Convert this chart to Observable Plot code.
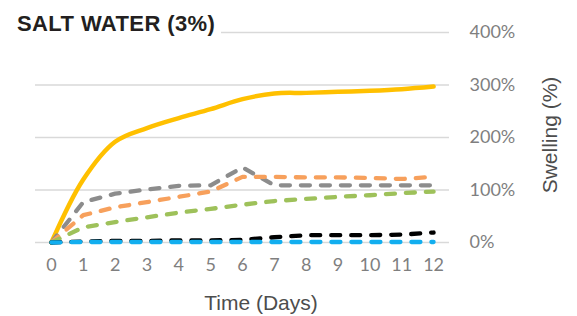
<!DOCTYPE html>
<html>
<head>
<meta charset="utf-8">
<script src="https://cdn.jsdelivr.net/npm/d3@7"></script>
<script src="https://cdn.jsdelivr.net/npm/@observablehq/plot@0.6"></script>
<style>
  html, body { margin: 0; padding: 0; background: #fff; }
  #chart { position: relative; width: 577px; height: 316px; }
</style>
</head>
<body>
<div id="chart"></div>
<script>
const title = "SALT WATER (3%)";
const xLabel = "Time (Days)";
const yLabel = "Swelling (%)";
const days = [0, 1, 2, 3, 4, 5, 6, 7, 8, 9, 10, 11, 12];
const yTicks = [0, 100, 200, 300, 400];

const seriesNames = ["Yellow", "Gray", "Orange", "Green", "Black", "Blue"];
const seriesColors = ["#FFC000", "#8C8C8C", "#F7A05C", "#9EC15A", "#000000", "#12AEEF"];
const yellowValues = [0, 120, 192, 218, 237, 254, 273, 284, 285, 287, 289, 292, 297];
const grayValues   = [0, 77, 93, 101, 108, 109, 143, 109, 109, 109, 109, 109, 109];
const orangeValues = [0, 52, 67, 77, 87, 97, 125, 125, 124, 124, 123, 121, 125];
const greenValues  = [0, 29, 39, 48, 57, 64, 72, 79, 83, 87, 90, 94, 97];
const blackValues  = [0, 2, 3, 3, 4, 4, 5, 10, 14, 14, 14, 15, 19];
const blueValues   = [0, 1, 1, 1, 1, 1, 1, 1, 1, 1, 1, 1, 1];

const allValues = [yellowValues, grayValues, orangeValues, greenValues, blackValues, blueValues];
const rows = (i) => days.map((d, j) => ({day: d, value: allValues[i][j], series: seriesNames[i]}));

const dashedMarks = [1, 2, 3, 4, 5].map(i =>
  Plot.line(rows(i), {
    x: "day", y: "value", stroke: seriesColors[i], strokeWidth: 4.3,
    strokeDasharray: "9,11", strokeLinecap: "round", curve: "linear"
  })
);

const plot = Plot.plot({
  width: 577,
  height: 316,
  marginLeft: 35,
  marginRight: 128,
  marginTop: 32,
  marginBottom: 74,
  style: {fontFamily: "Lato, sans-serif", background: "#fff"},
  x: {domain: [-0.5, 12.5]},
  y: {domain: [0, 400]},
  marks: [
    Plot.gridY(yTicks, {stroke: "#d9d9d9", strokeOpacity: 1, strokeWidth: 1.6}),
    Plot.axisX(days, {tickSize: 0, tickPadding: 16, fontSize: 18, fill: "#7f7f7f", label: null}),
    Plot.axisY(yTicks, {anchor: "right", tickSize: 0, tickPadding: 20, fontSize: 18, fill: "#7f7f7f",
      tickFormat: d => d + "%", label: null, textAnchor: "start"}),
    Plot.line(rows(0), {x: "day", y: "value", stroke: seriesColors[0], strokeWidth: 4.5,
      curve: "catmull-rom", strokeLinecap: "round"})
  ].concat(dashedMarks)
});

const svg = d3.select(plot);
svg.append("rect").attr("x", 0).attr("y", 0).attr("width", 221).attr("height", 40).attr("fill", "#fff");
svg.append("text")
  .attr("x", 17).attr("y", 31)
  .attr("text-anchor", "start")
  .attr("font-family", "'Liberation Sans', Arial, sans-serif")
  .attr("font-weight", "bold")
  .attr("font-size", 22)
  .attr("letter-spacing", 0.4)
  .attr("fill", "#231f20")
  .text(title);
svg.append("text")
  .attr("x", 261).attr("y", 310)
  .attr("text-anchor", "middle")
  .attr("font-family", "'Liberation Sans', Arial, sans-serif")
  .attr("font-size", 21)
  .attr("fill", "#4d4d4d")
  .text(xLabel);
svg.append("text")
  .attr("transform", "translate(557,135) rotate(-90)")
  .attr("text-anchor", "middle")
  .attr("font-family", "'Liberation Sans', Arial, sans-serif")
  .attr("font-size", 21)
  .attr("fill", "#4d4d4d")
  .text(yLabel);

document.getElementById("chart").appendChild(plot);
</script>
</body>
</html>
